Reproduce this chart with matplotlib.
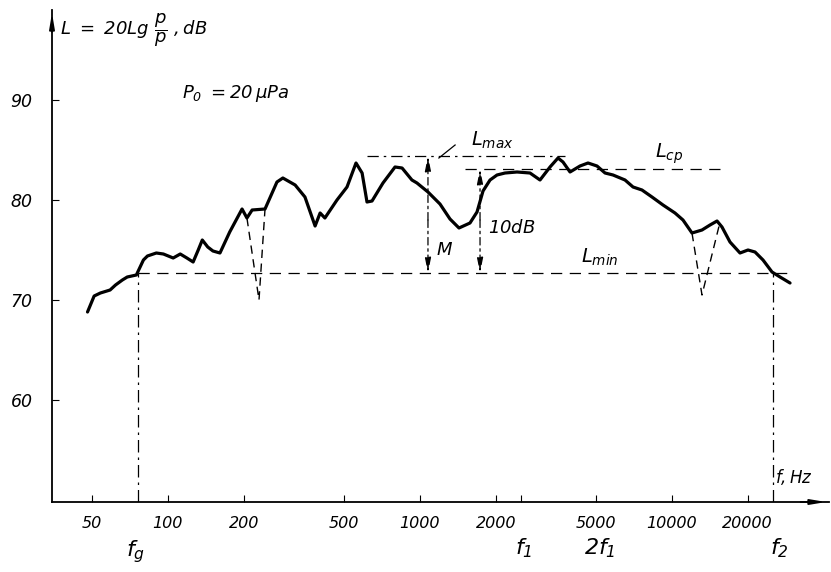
import matplotlib
matplotlib.use('Agg')
import matplotlib.pyplot as plt

# frequency response curve (Hz, dB)
freq = [48, 51, 54, 59, 62, 66, 69, 75, 80, 83,
        90, 96, 105, 112, 119, 126, 132, 137, 144, 151,
        161, 176, 197, 206, 216, 243, 271, 286, 320, 350,
        384, 402, 420, 469, 514, 558, 590, 617, 646, 714,
        797, 850, 930, 974, 1077, 1202, 1317, 1430, 1581, 1686,
        1781, 1899, 2024, 2178, 2430, 2736, 2998, 3285, 3534, 3698,
        3944, 4320, 4648, 5046, 5431, 5842, 6518, 7013, 7611, 8340,
        9223, 10290, 11070, 12020, 13170, 14170, 15110, 15810, 17010, 18640,
        20050, 21380, 23000, 24970, 26870, 29440]
level = [68.8, 70.4, 70.7, 71.0, 71.5, 72.0, 72.3, 72.5, 74.0, 74.4,
         74.7, 74.6, 74.2, 74.6, 74.2, 73.8, 75.0, 76.0, 75.3, 74.9,
         74.7, 76.8, 79.1, 78.2, 79.0, 79.1, 81.8, 82.2, 81.5, 80.3,
         77.4, 78.7, 78.2, 80.0, 81.3, 83.7, 82.7, 79.8, 79.9, 81.7,
         83.3, 83.2, 82.0, 81.7, 80.8, 79.6, 78.1, 77.2, 77.7, 78.8,
         80.9, 82.0, 82.5, 82.7, 82.8, 82.7, 82.0, 83.3, 84.2, 83.8,
         82.8, 83.4, 83.7, 83.4, 82.7, 82.5, 82.0, 81.3, 81.0, 80.3,
         79.5, 78.7, 78.0, 76.7, 77.0, 77.5, 77.9, 77.3, 75.8, 74.7,
         75.0, 74.8, 74.0, 72.8, 72.3, 71.7]

# narrow dips (dashed)
dip1_f = [206, 230, 243]
dip1_L = [78.2, 70.0, 79.1]
dip2_f = [12020, 13170, 15530]
dip2_L = [76.7, 70.5, 77.8]

# characteristic levels and frequencies
L_min = 72.7
L_max = 84.4
L_cp = 83.1
f_g = 76
f_1 = 2520
f_2 = 25200
f_M = 1077
f_10 = 1733

xticks = [50, 100, 200, 500, 1000, 2000, 5000, 10000, 20000]
xtick_labels = ['50', '100', '200', '500', '1000', '2000', '5000', '10000', '20000']
yticks = [60, 70, 80, 90]
ytick_labels = ['60', '70', '80', '90']

plt.rcParams['font.family'] = ['DejaVu Sans']
plt.rcParams['mathtext.fontset'] = 'custom'
plt.rcParams['mathtext.rm'] = 'DejaVu Sans:italic'
plt.rcParams['mathtext.it'] = 'DejaVu Sans:italic'

W, H = 831, 572
fig = plt.figure(figsize=(W / 100, H / 100), dpi=100)
ax = fig.add_axes([52 / W, (H - 502) / H, (829 - 52) / W, (502 - 10) / H])
ax.set_xscale('log')
ax.set_xlim(34.7, 42030)
ax.set_ylim(49.8, 99)

for s in ['top', 'right']:
    ax.spines[s].set_visible(False)
ax.spines['left'].set_linewidth(1.3)
ax.spines['bottom'].set_linewidth(1.3)
ax.annotate('', xy=(0, 1), xytext=(0, 0.95), xycoords='axes fraction',
            arrowprops=dict(arrowstyle='-|>,head_length=0.9,head_width=0.15', color='k', lw=1.3))
ax.annotate('', xy=(1, 0), xytext=(0.96, 0), xycoords='axes fraction',
            arrowprops=dict(arrowstyle='-|>,head_length=0.9,head_width=0.15', color='k', lw=1.3))

ax.set_xticks(xticks)
ax.set_xticklabels(xtick_labels, fontstyle='italic', fontsize=11.5)
ax.minorticks_off()
ax.set_xticks([f_1], minor=True)
ax.set_yticks(yticks)
ax.set_yticklabels(ytick_labels, fontstyle='italic', fontsize=12.5)
ax.tick_params(axis='x', which='both', direction='in', length=5, width=0.8, pad=10)
ax.tick_params(axis='y', direction='in', length=5, width=0.8, pad=14)

# curve
ax.plot(freq, level, color='k', lw=2.3, solid_joinstyle='round', solid_capstyle='round')
ax.plot(dip1_f, dip1_L, color='k', lw=1, ls=(0, (6, 4)))
ax.plot(dip2_f, dip2_L, color='k', lw=1, ls=(0, (6, 4)))

# reference lines
ax.plot([f_g, 30000], [L_min, L_min], color='k', lw=0.9, ls=(0, (9, 6)))
ax.plot([f_g, f_g], [49.8, L_min], color='k', lw=0.9, ls=(0, (10, 4, 2, 4)))
ax.plot([f_2, f_2], [49.8, L_min], color='k', lw=0.9, ls=(0, (10, 4, 2, 4)))
ax.plot([617, 3770], [L_max, L_max], color='k', lw=0.9, ls=(0, (9, 4, 2, 4)))
ax.plot([1511, 15530], [L_cp, L_cp], color='k', lw=0.9, ls=(0, (9, 6)))

# dimension arrows
arr = dict(arrowstyle='-|>,head_length=0.9,head_width=0.18', color='k', lw=0.9,
           linestyle=(0, (6, 3, 2, 3)), shrinkA=0, shrinkB=0)
ax.annotate('', xy=(f_M, L_max), xytext=(f_M, 78), arrowprops=arr)
ax.annotate('', xy=(f_M, L_min), xytext=(f_M, 78), arrowprops=arr)
ax.annotate('', xy=(f_10, L_cp), xytext=(f_10, 78), arrowprops=arr)
ax.annotate('', xy=(f_10, L_min), xytext=(f_10, 78), arrowprops=arr)
# leader for L_max
ax.plot([1190, 1380], [84.2, 85.5], color='k', lw=0.9)


def px(x, y):
    return x / W, 1 - y / H


fig.text(*px(60, 30), r'$L\ =\ 20Lg\ \dfrac{p}{p}\ ,dB$', fontsize=13, va='center', ha='left')
fig.text(*px(182, 93), r'$P_0\ =20\,\mu Pa$', fontsize=13, va='center', ha='left')
fig.text(*px(471, 140), r'$L_{max}$', fontsize=14, va='center', ha='left')
fig.text(*px(655, 154), r'$L_{ср}$', fontsize=14, va='center', ha='left')
fig.text(*px(581, 257), r'$L_{min}$', fontsize=14, va='center', ha='left')
fig.text(*px(436, 250), r'$M$', fontsize=13, va='center', ha='left')
fig.text(*px(488, 228), r'$10dB$', fontsize=13, va='center', ha='left')
fig.text(*px(775, 477), r'$f,Hz$', fontsize=12, va='center', ha='left')
fig.text(*px(136, 552), r'$f_g$', fontsize=16, va='center', ha='center')
fig.text(*px(524, 548), r'$f_1$', fontsize=16, va='center', ha='center')
fig.text(*px(600, 548), r'$2f_1$', fontsize=16, va='center', ha='center')
fig.text(*px(779, 548), r'$f_2$', fontsize=16, va='center', ha='center')

plt.savefig('out.png', dpi=100)
